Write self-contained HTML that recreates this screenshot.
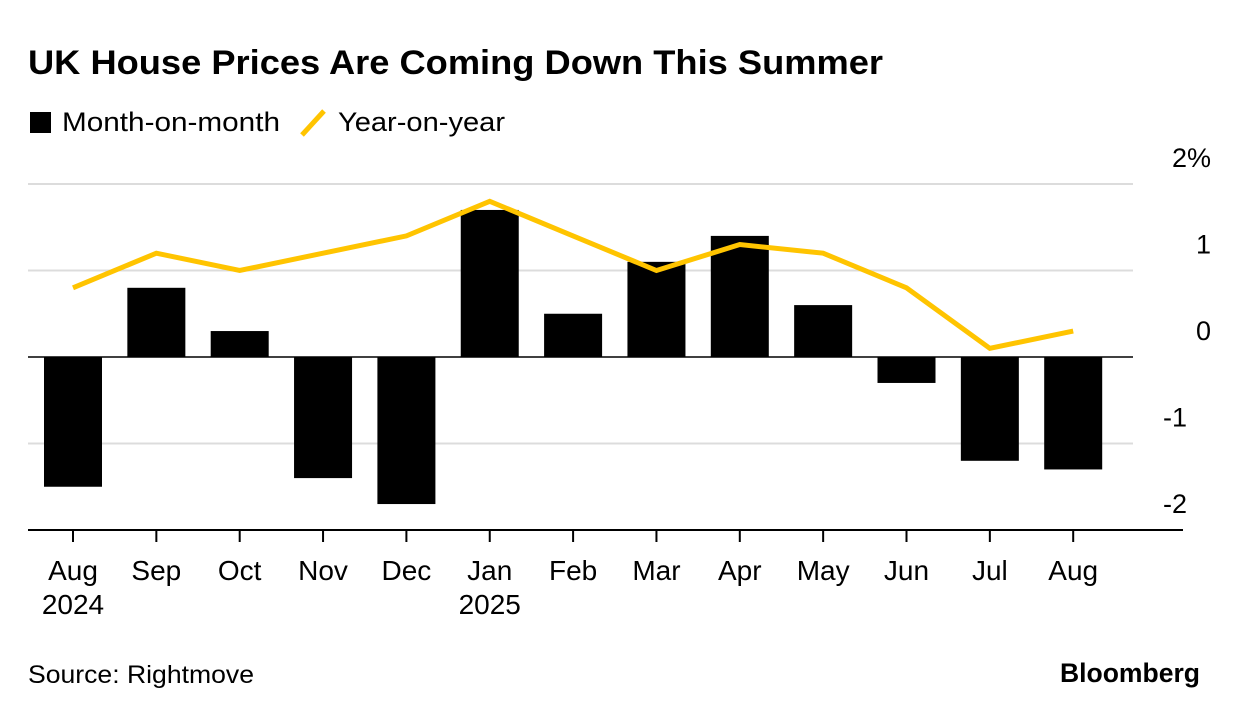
<!DOCTYPE html>
<html><head><meta charset="utf-8"><style>
body{margin:0;background:#fff;font-family:"Liberation Sans",sans-serif;}
svg text{font-family:"Liberation Sans",sans-serif;}
</style></head><body>
<svg width="1240" height="716" xmlns="http://www.w3.org/2000/svg">
<text x="28" y="74" font-size="34" font-weight="bold" fill="#000" textLength="855" lengthAdjust="spacingAndGlyphs">UK House Prices Are Coming Down This Summer</text>
<g>
<rect x="30" y="112" width="21" height="21" fill="#000"/>
<text x="62" y="131" font-size="27" textLength="218" lengthAdjust="spacingAndGlyphs">Month-on-month</text>
<line x1="302" y1="135" x2="324" y2="111" stroke="#ffc400" stroke-width="5"/>
<text x="338" y="131" font-size="27" textLength="167" lengthAdjust="spacingAndGlyphs">Year-on-year</text>
</g>
<g id="grid"></g><g id="bars"></g><g id="line"></g><g id="axes"></g>
<text x="28" y="683" font-size="25" textLength="226" lengthAdjust="spacingAndGlyphs">Source: Rightmove</text>
<text x="1200" y="682" font-size="27" font-weight="bold" text-anchor="end" textLength="140" lengthAdjust="spacingAndGlyphs">Bloomberg</text>
</svg>
<script>
const categories=["Aug","Sep","Oct","Nov","Dec","Jan","Feb","Mar","Apr","May","Jun","Jul","Aug"];
const yearLabels=["2024","","","","","2025","","","","","","",""];
const momValues=[-1.5,0.8,0.3,-1.4,-1.7,1.7,0.5,1.1,1.4,0.6,-0.3,-1.2,-1.3];
const yoyValues=[0.8,1.2,1.0,1.2,1.4,1.8,1.4,1.0,1.3,1.2,0.8,0.1,0.3];
const yTicks=[2,1,0,-1,-2];
const yTickLabels=["2%","1","0","-1","-2"];
const NS="http://www.w3.org/2000/svg";
const y=v=>357-v*86.5;
const x=i=>73+i*83.35;
function mk(t,a,p){const e=document.createElementNS(NS,t);for(const k in a)e.setAttribute(k,a[k]);p.appendChild(e);return e;}
const grid=document.getElementById('grid'),bars=document.getElementById('bars'),line=document.getElementById('line'),axes=document.getElementById('axes');
yTicks.forEach((t,i)=>{
 if(t!==0&&t!==-2){const g=mk('line',{x1:28,x2:1133,y1:y(t),y2:y(t),stroke:'#dcdcdc','stroke-width':2},grid);
 
 }
 const ex=t<0?1187:1211;
 const tx=mk('text',{x:ex,y:y(t)-17,'font-size':27,'text-anchor':'end'},axes);tx.textContent=yTickLabels[i];
 
 
});
momValues.forEach((v,i)=>{
 const r=mk('rect',{x:x(i)-29,width:58,y:Math.min(y(v),y(0)),height:Math.abs(y(v)-y(0)),fill:'#000'},bars);
 
 
});
const zl=mk('line',{x1:28,x2:1133,y1:y(0),y2:y(0),stroke:'#000','stroke-width':1.5},axes);


const pl=mk('polyline',{points:yoyValues.map((v,i)=>x(i)+','+y(v)).join(' '),fill:'none',stroke:'#ffc400','stroke-width':5,'stroke-linejoin':'miter'},line);


const ax=mk('line',{x1:28,x2:1183,y1:530,y2:530,stroke:'#000','stroke-width':2},axes);


categories.forEach((c,i)=>{
 const tk=mk('line',{x1:x(i),x2:x(i),y1:530,y2:542,stroke:'#000','stroke-width':2},axes);
 
 
 const t=mk('text',{x:x(i),y:580,'font-size':28,'text-anchor':'middle'},axes);t.textContent=c;
 
 
 if(yearLabels[i]){const t2=mk('text',{x:x(i),y:614,'font-size':28,'text-anchor':'middle'},axes);t2.textContent=yearLabels[i];
 
 }
});
</script>
</body></html>
